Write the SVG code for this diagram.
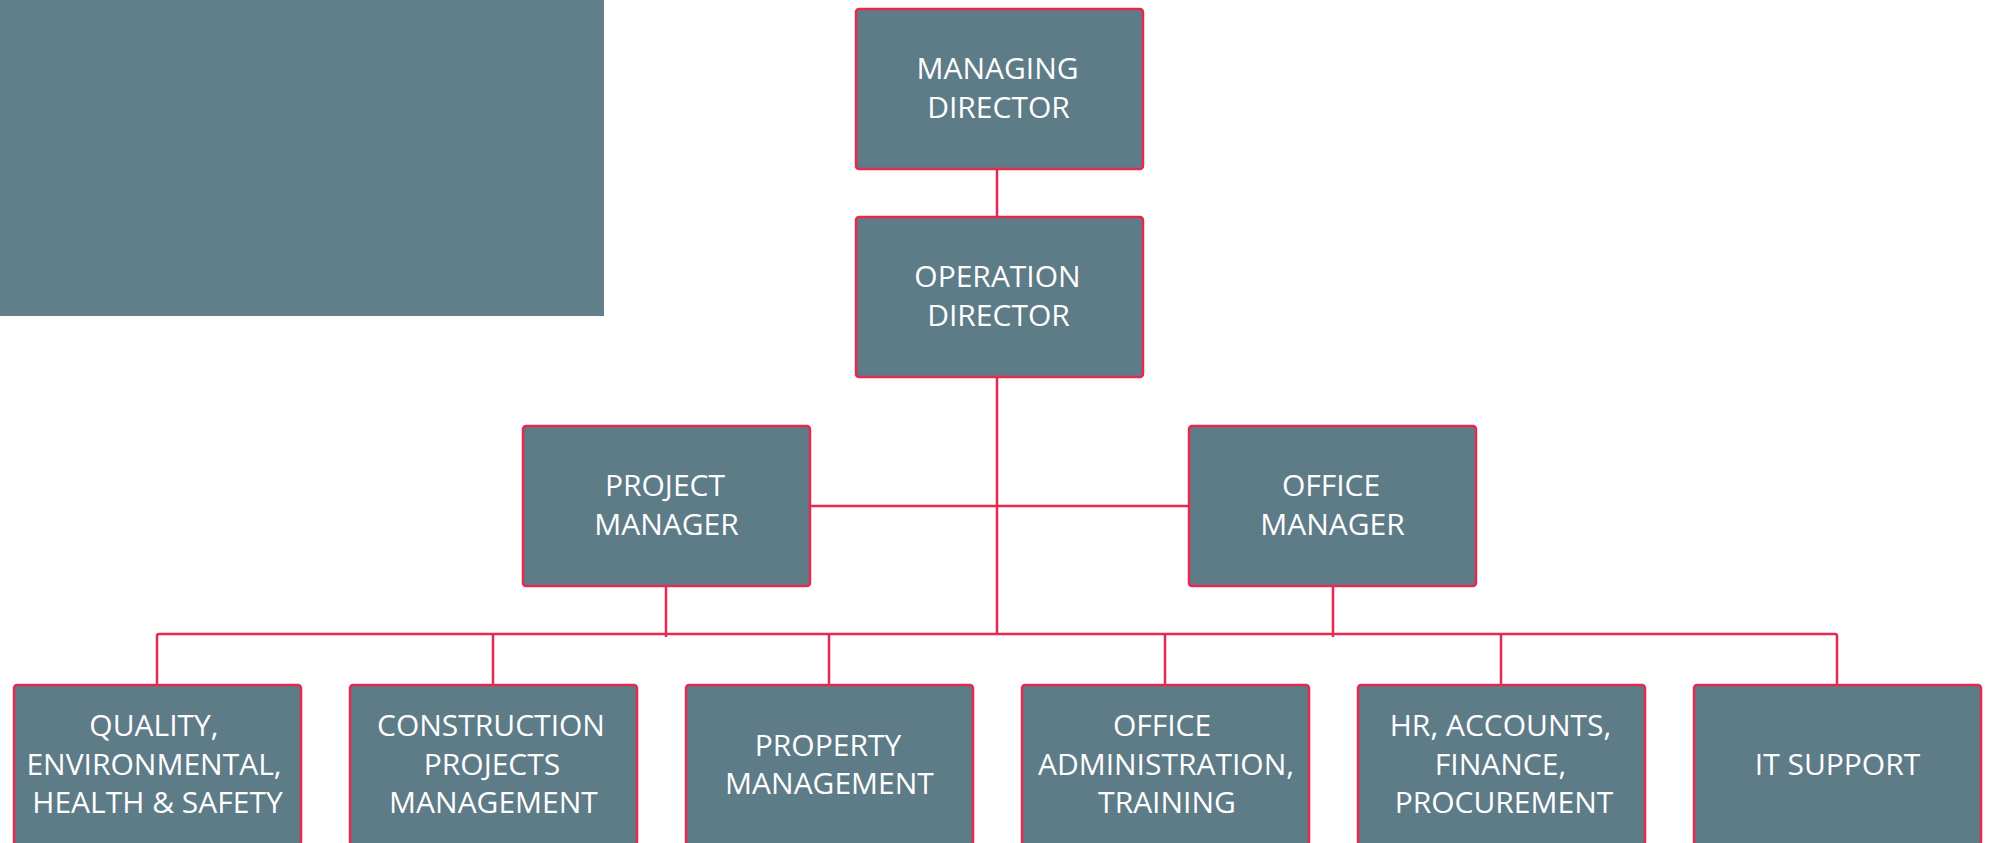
<svg xmlns="http://www.w3.org/2000/svg" width="1989" height="843" viewBox="0 0 1989 843">
<style>
.box{fill:#5e7b88;stroke:#e5294f;stroke-width:2.5}
.lbl{fill:#ffffff;font-family:"Open Sans","Noto Sans","Liberation Sans",sans-serif;font-size:30px;text-anchor:middle}
.con{fill:none;stroke:#e5294f;stroke-width:2.5}
</style>
<rect x="0" y="0" width="604" height="316" fill="#62808b"/>
<g id="connectors">
<line class="con" x1="997" y1="169" x2="997" y2="217"/>
<line class="con" x1="997" y1="377" x2="997" y2="634"/>
<line class="con" x1="811" y1="506" x2="1189" y2="506"/>
<line class="con" x1="666" y1="586" x2="666" y2="637"/>
<line class="con" x1="1333" y1="586" x2="1333" y2="637"/>
<path class="con" d="M157 685 V636 Q157 634 159 634 H1835 Q1837 634 1837 636 V685"/>
<line class="con" x1="493" y1="634" x2="493" y2="685"/>
<line class="con" x1="829" y1="634" x2="829" y2="685"/>
<line class="con" x1="1165" y1="634" x2="1165" y2="685"/>
<line class="con" x1="1501" y1="634" x2="1501" y2="685"/>
</g>
<g id="managing-director">
<rect class="box" x="856" y="9" width="287" height="160" rx="3"/>
<text class="lbl" x="997.5" y="79">MANAGING</text>
<text class="lbl" x="998.5" y="118">DIRECTOR</text>
</g>
<g id="operation-director">
<rect class="box" x="856" y="217" width="287" height="160" rx="3"/>
<text class="lbl" x="997.5" y="287">OPERATION</text>
<text class="lbl" x="998.5" y="326">DIRECTOR</text>
</g>
<g id="project-manager">
<rect class="box" x="523" y="426" width="287" height="160" rx="3"/>
<text class="lbl" x="665" y="496">PROJECT</text>
<text class="lbl" x="666.5" y="535">MANAGER</text>
</g>
<g id="office-manager">
<rect class="box" x="1189" y="426" width="287" height="160" rx="3"/>
<text class="lbl" x="1331" y="496">OFFICE</text>
<text class="lbl" x="1332.5" y="535">MANAGER</text>
</g>
<g id="qehs">
<rect class="box" x="14" y="685" width="287" height="160" rx="3"/>
<text class="lbl" x="154" y="736">QUALITY,</text>
<text class="lbl" x="154" y="775">ENVIRONMENTAL,</text>
<text class="lbl" x="157.5" y="813">HEALTH &amp; SAFETY</text>
</g>
<g id="construction">
<rect class="box" x="350" y="685" width="287" height="160" rx="3"/>
<text class="lbl" x="491" y="736">CONSTRUCTION</text>
<text class="lbl" x="492" y="775">PROJECTS</text>
<text class="lbl" x="493.5" y="813">MANAGEMENT</text>
</g>
<g id="property">
<rect class="box" x="686" y="685" width="287" height="160" rx="3"/>
<text class="lbl" x="828" y="756">PROPERTY</text>
<text class="lbl" x="829.5" y="794">MANAGEMENT</text>
</g>
<g id="office-admin">
<rect class="box" x="1022" y="685" width="287" height="160" rx="3"/>
<text class="lbl" x="1162" y="736">OFFICE</text>
<text class="lbl" x="1166" y="775">ADMINISTRATION,</text>
<text class="lbl" x="1167" y="813">TRAINING</text>
</g>
<g id="hr">
<rect class="box" x="1358" y="685" width="287" height="160" rx="3"/>
<text class="lbl" x="1500.5" y="736">HR, ACCOUNTS,</text>
<text class="lbl" x="1500.5" y="775">FINANCE,</text>
<text class="lbl" x="1504" y="813">PROCUREMENT</text>
</g>
<g id="it-support">
<rect class="box" x="1694" y="685" width="287" height="160" rx="3"/>
<text class="lbl" x="1837.5" y="775">IT SUPPORT</text>
</g>
</svg>
